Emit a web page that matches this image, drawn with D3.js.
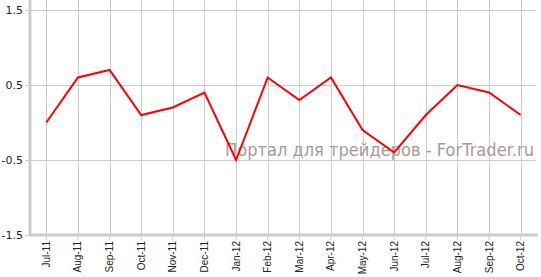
<!DOCTYPE html>
<html><head><meta charset="utf-8">
<script src="https://cdn.jsdelivr.net/npm/d3@7/dist/d3.min.js"></script>
<style>body{margin:0;background:#fff}svg{display:block}</style>
</head><body><svg id="c" width="541" height="277"></svg>
<script>
const categories = ["Jul-11","Aug-11","Sep-11","Oct-11","Nov-11","Dec-11","Jan-12","Feb-12","Mar-12","Apr-12","May-12","Jun-12","Jul-12","Aug-12","Sep-12","Oct-12"];
const values = [0.0,0.6,0.7,0.1,0.2,0.4,-0.5,0.6,0.3,0.6,-0.1,-0.4,0.1,0.5,0.4,0.1];
const yTicks = [1.5,0.5,-0.5,-1.5];
const watermark = "Портал для трейдеров - ForTrader.ru";

const svg = d3.select("#c");
const L = 30, R = 536, T = 10, B = 235;
const x = d3.scaleBand().domain(categories).range([L+0.5, R+0.5]);
const y = d3.scaleLinear().domain([-1.5,1.5]).range([B, T]);

// grid
svg.append("g").selectAll("line").data(categories).join("line")
  .attr("x1", d => Math.round(x(d)+x.bandwidth()/2)+0.5).attr("x2", d => Math.round(x(d)+x.bandwidth()/2)+0.5)
  .attr("y1", 0).attr("y2", B).attr("stroke", "#cccccc");
svg.append("g").selectAll("line").data(yTicks).join("line")
  .attr("x1", L).attr("x2", R).attr("y1", d => Math.round(y(d))+0.5).attr("y2", d => Math.round(y(d))+0.5)
  .attr("stroke", "#cccccc");

// axes
const yAxis = svg.append("g").attr("transform", `translate(${L},0)`)
  .call(d3.axisLeft(y).tickValues(yTicks).tickFormat(d => d.toFixed(1)).tickSize(5).tickPadding(2));
yAxis.select(".domain").attr("stroke", "#cccccc").attr("stroke-width", 3).attr("d", `M0,0V${B+1}`);
yAxis.selectAll(".tick line").attr("stroke", "#cccccc");
yAxis.selectAll("text").attr("font-family", "DejaVu Sans").attr("font-size", 11).attr("fill", "#222");

const xAxis = svg.append("g").attr("transform", `translate(0,${B})`)
  .call(d3.axisBottom(x).tickSize(5).tickPadding(3));
xAxis.select(".domain").attr("stroke", "#cccccc").attr("stroke-width", 3).attr("d", `M${L-1},0H${R+2}`);
xAxis.selectAll(".tick line").attr("stroke", "#cccccc");
xAxis.selectAll("text").attr("font-family", "Liberation Sans").attr("font-size", 10).attr("fill", "#222")
  .attr("text-anchor", "end").attr("transform", "rotate(-90)").attr("x", -6).attr("y", 0).attr("dy", "0.35em");

// watermark
svg.append("text").attr("x", 534).attr("y", 156).attr("text-anchor", "end")
  .attr("font-family", "DejaVu Sans").attr("font-size", 17).attr("fill", "#a89a99")
  .attr("textLength", 309).attr("lengthAdjust", "spacingAndGlyphs").text(watermark);

// line
const line = d3.line().x((d,i) => x(categories[i]) + x.bandwidth()/2).y(d => y(d));
svg.append("path").datum(values).attr("d", line).attr("fill", "none")
  .attr("stroke", "#ff0000").attr("stroke-width", 2).attr("stroke-linejoin", "miter");
</script></body></html>
